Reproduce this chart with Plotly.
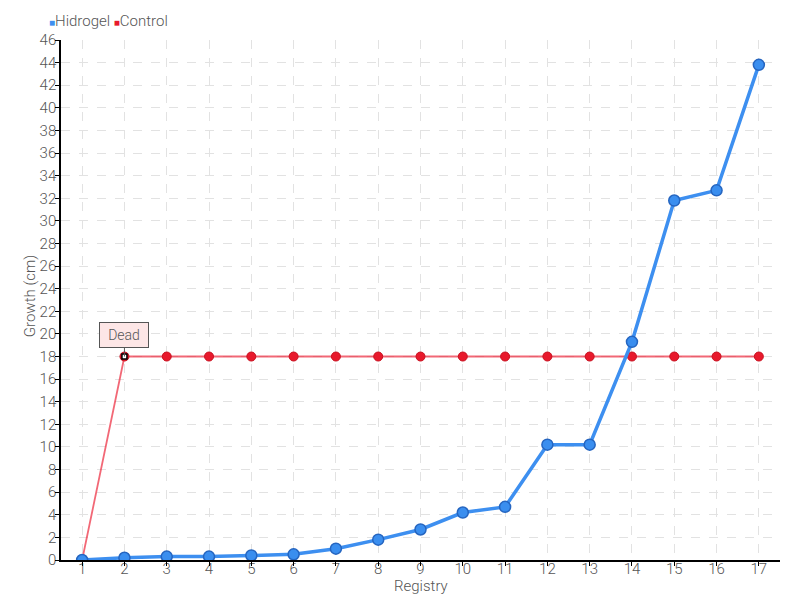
import plotly.graph_objects as go

registry = list(range(1, 18))
hidrogel = [0, 0.2, 0.3, 0.3, 0.4, 0.5, 1.0, 1.8, 2.7, 4.2, 4.7, 10.2, 10.2, 19.3, 31.8, 32.7, 43.8]
control = [0, 18, 18, 18, 18, 18, 18, 18, 18, 18, 18, 18, 18, 18, 18, 18, 18]
y_ticks = list(range(0, 47, 2))

FONT = "Roboto, sans-serif"
GREY = "#555555"
BLUE = "#3d8ff0"
RED = "#e8192c"
X_RANGE = [0.5, 17.5]
Y_RANGE = [0, 46]

fig = go.Figure()

fig.add_trace(go.Scatter(
    x=registry, y=control, mode="lines+markers", name="Control", showlegend=False,
    line=dict(color="rgba(236,40,60,0.7)", width=1.8),
    marker=dict(color=RED, size=9, line=dict(color="#c8101f", width=1)),
))
fig.add_trace(go.Scatter(
    x=registry, y=hidrogel, mode="lines+markers", name="Hidrogel", showlegend=False,
    line=dict(color=BLUE, width=3.5),
    marker=dict(color="#3a8eef", size=11, line=dict(color="#2565c0", width=1.5)),
))
# highlighted "Dead" point
fig.add_trace(go.Scatter(
    x=[registry[1]], y=[control[1]], mode="markers", showlegend=False, hoverinfo="skip",
    marker=dict(symbol="square", color="white", size=5, line=dict(color="black", width=1.5)),
))
# invisible trace on the tick-mark overlay axes
fig.add_trace(go.Scatter(x=[None], y=[None], xaxis="x2", yaxis="y2", showlegend=False,
                         hoverinfo="skip"))

# legend as text with coloured squares
fig.add_annotation(
    xref="paper", yref="paper", x=-0.02, y=1.0, yshift=19, xanchor="left", yanchor="middle",
    showarrow=False, align="left",
    text=f"<span style='color:{BLUE};font-size:10px'>■</span>Hidrogel "
         f"<span style='color:{RED};font-size:10px'>■</span>Control",
    font=dict(family=FONT, size=15, color=GREY, weight=300),
)

# axis titles
fig.add_annotation(
    xref="paper", yref="paper", x=0.5, y=-0.05, xanchor="center", yanchor="middle",
    showarrow=False, text="Registry", font=dict(family=FONT, size=15, color=GREY, weight=300),
)
fig.add_annotation(
    xref="paper", yref="paper", x=-0.044, y=0.508, xanchor="center", yanchor="middle",
    showarrow=False, textangle=-90, text="Growth (cm)",
    font=dict(family=FONT, size=15, color=GREY, weight=300),
)

fig.add_annotation(
    x=registry[1], y=control[1], text="Dead", showarrow=True, arrowhead=0, arrowwidth=1,
    arrowcolor=GREY, ax=0, ay=-9, yanchor="bottom",
    width=46, height=22,
    bgcolor="#fde6e6", bordercolor=GREY, borderwidth=1, borderpad=1,
    font=dict(family=FONT, size=14, color=GREY, weight=300),
)

fig.update_layout(
    width=800, height=600,
    margin=dict(l=61, r=20, t=40, b=40, autoexpand=False),
    plot_bgcolor="white", paper_bgcolor="white",
    font=dict(family=FONT, size=15, color=GREY, weight=300),
    showlegend=False,
    xaxis=dict(
        range=X_RANGE, tickmode="array", tickvals=registry, automargin=False,
        showline=True, linecolor="black", linewidth=1.5, ticks="", ticklabelstandoff=-6,
        showgrid=True, gridcolor="#e2e2e2", griddash="dash",
        zeroline=False,
    ),
    yaxis=dict(
        range=Y_RANGE, tickmode="array", tickvals=y_ticks, automargin=False,
        showline=True, linecolor="black", linewidth=1.5, ticks="", ticklabelstandoff=0,
        showgrid=True, gridcolor="#e2e2e2", griddash="dash",
        zeroline=False,
    ),
    xaxis2=dict(
        range=X_RANGE, tickmode="array", tickvals=registry, automargin=False,
        overlaying="x", ticks="outside", ticklen=5, tickcolor="black", tickwidth=1,
        showticklabels=False, showgrid=False, zeroline=False, showline=False,
    ),
    yaxis2=dict(
        range=Y_RANGE, tickmode="array", tickvals=y_ticks, automargin=False,
        overlaying="y", ticks="outside", ticklen=5, tickcolor="black", tickwidth=1,
        showticklabels=False, showgrid=False, zeroline=False, showline=False,
    ),
)

fig.write_html("out.html", config={"displayModeBar": False},
               post_script="document.body.style.margin='0';")
